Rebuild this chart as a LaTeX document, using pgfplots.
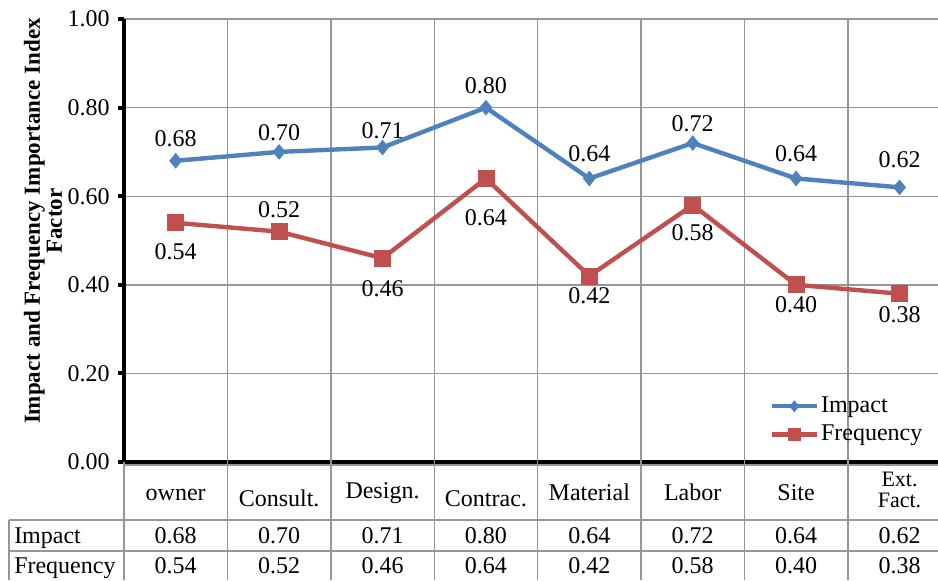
\documentclass[border=0pt]{standalone}
\usepackage{fontspec}
\setmainfont{Liberation Serif}
\usepackage{pgfplots}
\usepackage{pgfplotstable}
\pgfplotsset{compat=1.18}

\definecolor{impactblue}{HTML}{4F81BD}
\definecolor{freqred}{HTML}{C0504D}
\definecolor{gridgray}{HTML}{969696}

% x = factor group, y = importance index, dy = label offset (pt)
\pgfplotstableread{
x y dy
0 0.68 10.9
1 0.70 9.5
2 0.71 8.3
3 0.80 10.8
4 0.64 12.3
5 0.72 9.5
6 0.64 12.3
7 0.62 13.7
}\impact
\pgfplotstableread{
x y dy
0 0.54 -14.4
1 0.52 10.8
2 0.46 -15.0
3 0.64 -19.7
4 0.42 -10.0
5 0.58 -14.0
6 0.40 -10.1
7 0.38 -10.6
}\frequency

\begin{document}
\fontsize{12}{14.5}\selectfont
\begin{tikzpicture}
\begin{axis}[
  scale only axis, width=407pt, height=221.5pt,
  xmin=-0.5, xmax=7.372, ymin=0, ymax=1,
  clip=false,
  axis lines=left,
  axis line style={-, black, line width=2pt},
  /pgf/number format/assume math mode=true,
  ytick={0,0.2,0.4,0.6,0.8,1},
  yticklabel={\pgfmathprintnumber[fixed,fixed zerofill,precision=2]{\tick}\hspace{4pt}},
  ytick style={black, line width=2pt},
  tick align=outside, major tick length=3pt,
  ymajorgrids, major grid style={gridgray, line width=0.7pt},
  xtick={0,...,7},
  xticklabels={owner, \raisebox{-3pt}{Consult.}, \raisebox{1pt}{Design.}, \raisebox{-3pt}{Contrac.}, Material, Labor, Site,
    {\raisebox{-3.5pt}{\fontsize{11}{9.5}\selectfont\begin{tabular}[b]{@{}c@{}}Ext.\\Fact.\end{tabular}}}},
  x tick style={draw=none},
  xticklabel style={anchor=base, yshift=-16pt},
  legend image code/.code={\draw[mark repeat=2,mark phase=2,#1,every mark/.append style={scale=0.75}]
    plot coordinates {(0pt,0pt) (11.25pt,0pt) (22.5pt,0pt)};},
  legend style={at={(axis cs:5.74,0.153)}, anchor=north west, draw=none, fill=none,
    inner sep=0pt, row sep=2.5pt, nodes={inner sep=1pt}},
  legend cell align=left,
  nodes near coords={\pgfmathprintnumber[fixed,fixed zerofill,precision=2]{\pgfplotspointmeta}},
]

% column separators of the plot area and the data table
\pgfplotsinvokeforeach{0.5,1.5,...,6.5}{
  \draw[gridgray, line width=0.7pt] (axis cs:#1,1) -- (axis cs:#1,-0.2664);
}
\draw[gridgray, line width=0.7pt] (axis cs:-0.5,0) -- (axis cs:-0.5,-0.2664);
\draw[gridgray, line width=0.7pt] (axis cs:-1.612,-0.1309) -- (axis cs:-1.612,-0.2664);
\draw[gridgray, line width=0.7pt] (axis cs:-0.5,-0.0068) -- (axis cs:7.372,-0.0068);
\draw[gridgray, line width=0.7pt] (axis cs:-1.612,-0.1309) -- (axis cs:7.372,-0.1309);
\draw[gridgray, line width=0.7pt] (axis cs:-1.612,-0.2009) -- (axis cs:7.372,-0.2009);

\addplot[impactblue, line width=2.2pt, mark=diamond*, mark size=3.6pt,
  mark options={solid, fill=impactblue, line width=0.4pt, xscale=1.1},
  point meta=\thisrow{y},
  visualization depends on={\thisrow{dy}\as\labeldy},
  every node near coord/.append style={black, anchor=center, yshift=\labeldy pt}]
  table[x=x, y=y] {\impact};
\addlegendentry{Impact}

\addplot[freqred, line width=2.2pt, mark=square*, mark size=4pt,
  mark options={solid, fill=freqred, line width=0.4pt},
  point meta=\thisrow{y},
  visualization depends on={\thisrow{dy}\as\labeldy},
  every node near coord/.append style={black, anchor=center, yshift=\labeldy pt}]
  table[x=x, y=y] {\frequency};
\addlegendentry{Frequency}

% data table rows
\addplot[draw=none, forget plot, point meta=\thisrow{y},
  every node near coord/.append style={black, anchor=base, inner sep=0pt}]
  table[x=x, y expr=-0.1828] {\impact};
\addplot[draw=none, forget plot, point meta=\thisrow{y},
  every node near coord/.append style={black, anchor=base, inner sep=0pt}]
  table[x=x, y expr=-0.2506] {\frequency};

\node[anchor=base west, inner sep=0pt] at (axis cs:-1.565,-0.1828) {Impact};
\node[anchor=base west, inner sep=0pt] at (axis cs:-1.565,-0.2506) {Frequency};

\node[rotate=90, font=\bfseries\fontsize{11.5}{11}\selectfont, align=center]
  at (axis cs:-1.284,0.544) {Impact and Frequency Importance Index\\Factor};

\coordinate (bbsw) at (axis cs:-1.699,-0.2664);
\coordinate (bbne) at (axis cs:7.372,1.0429);
\end{axis}
\pgfresetboundingbox
\path[use as bounding box] (bbsw) rectangle (bbne);
\end{tikzpicture}
\end{document}
